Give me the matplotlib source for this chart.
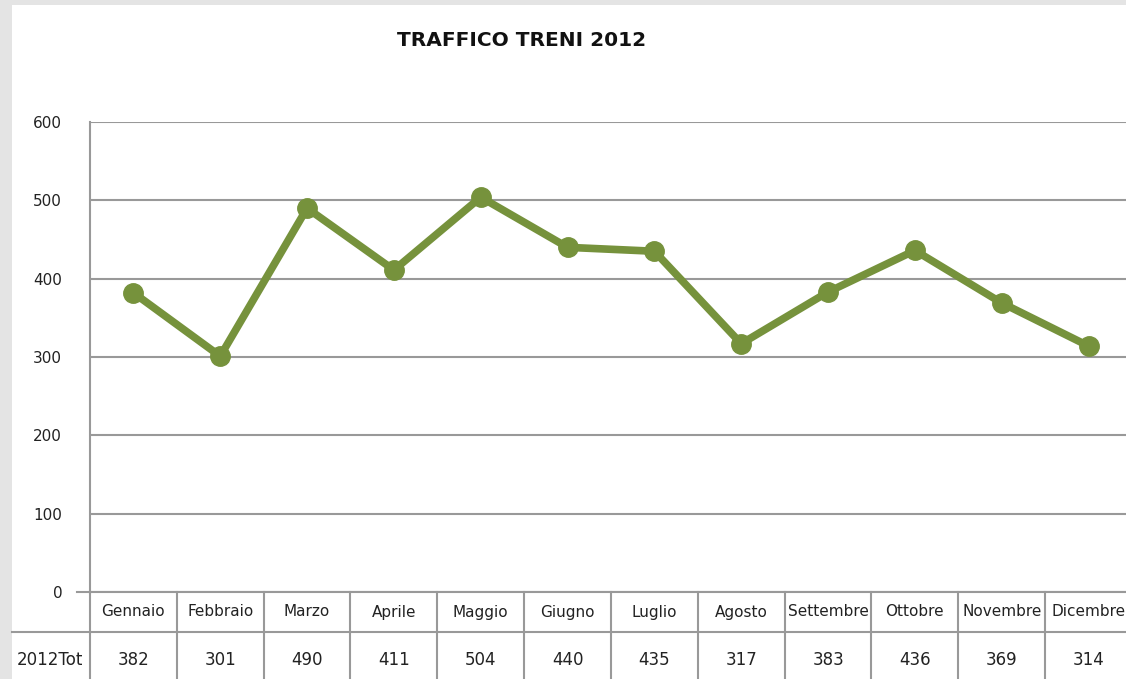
import matplotlib
matplotlib.use("Agg")
import matplotlib.pyplot as plt
from matplotlib.transforms import blended_transform_factory
from matplotlib.patches import Rectangle

plt.rcParams['font.family'] = ['Liberation Sans Narrow', 'DejaVu Sans Condensed', 'DejaVu Sans']

# data
months = ["Gennaio", "Febbraio", "Marzo", "Aprile", "Maggio", "Giugno",
          "Luglio", "Agosto", "Settembre", "Ottobre", "Novembre", "Dicembre"]
totals = [382, 301, 490, 411, 504, 440, 435, 317, 383, 436, 369, 314]
row_label = "2012Tot"
title = "TRAFFICO TRENI 2012"
yticks = [0, 100, 200, 300, 400, 500, 600]

W, H = 1126, 679
fig = plt.figure(figsize=(W / 100, H / 100), dpi=100)
fig.patch.set_facecolor("white")

# grey frame around the slide
fig.patches.append(Rectangle((0, 0), 12 / W, 1, transform=fig.transFigure,
                             facecolor="#e4e4e4", edgecolor="none", zorder=0))
fig.patches.append(Rectangle((0, 1 - 5 / H), 1, 5 / H, transform=fig.transFigure,
                             facecolor="#e4e4e4", edgecolor="none", zorder=0))

left, right, bottom, top = 90 / W, 1132 / W, 1 - 592 / H, 1 - 122 / H
ax = fig.add_axes([left, bottom, right - left, top - bottom])

green = "#76923c"
x = list(range(len(months)))
ax.plot(x, totals, color=green, linewidth=5.5, marker="o", markersize=14,
        solid_capstyle="round", zorder=3)

ax.set_xlim(-0.5, len(months) - 0.5)
ax.set_ylim(0, 600)
ax.set_yticks(yticks)
ax.set_yticklabels([str(v) for v in yticks], fontsize=11, color="#222222")
ax.tick_params(axis="y", length=0, pad=20)
ax.set_xticks([])
ax.yaxis.grid(True, color="#999999", linewidth=1.5)
ax.set_axisbelow(True)
for s in ["top", "right"]:
    ax.spines[s].set_visible(False)
ax.spines["left"].set_color("#999999")
ax.spines["left"].set_linewidth(1.5)
ax.spines["bottom"].set_color("#999999")
ax.spines["bottom"].set_linewidth(1.5)

# data table under the chart
tr = blended_transform_factory(ax.transData, fig.transFigure)
y_hdr = 1 - 612 / H
y_val = 1 - 660 / H
y_sep = 1 - 632 / H
for i, (m, v) in enumerate(zip(months, totals)):
    ax.text(i, y_hdr, m, transform=tr, ha="center", va="center", fontsize=11,
            color="#222222")
    ax.text(i, y_val, str(v), transform=tr, ha="center", va="center", fontsize=12,
            color="#222222")
for i in range(len(months) + 1):
    ax.plot([i - 0.5, i - 0.5], [bottom, 0], transform=tr, color="#999999",
            linewidth=1.5, clip_on=False)
fig.lines.append(plt.Line2D([12 / W, 1], [y_sep, y_sep], transform=fig.transFigure,
                            color="#999999", linewidth=1.5))
fig.lines.append(plt.Line2D([77 / W, left], [bottom, bottom], transform=fig.transFigure,
                            color="#999999", linewidth=1.5))
fig.text(50 / W, y_val, row_label, ha="center", va="center", fontsize=12, color="#222222")

fig.text(522 / W, 1 - 40 / H, title, ha="center", va="center", fontsize=14.5,
         fontweight="bold", color="#111111")

fig.savefig("out.png", dpi=100)
